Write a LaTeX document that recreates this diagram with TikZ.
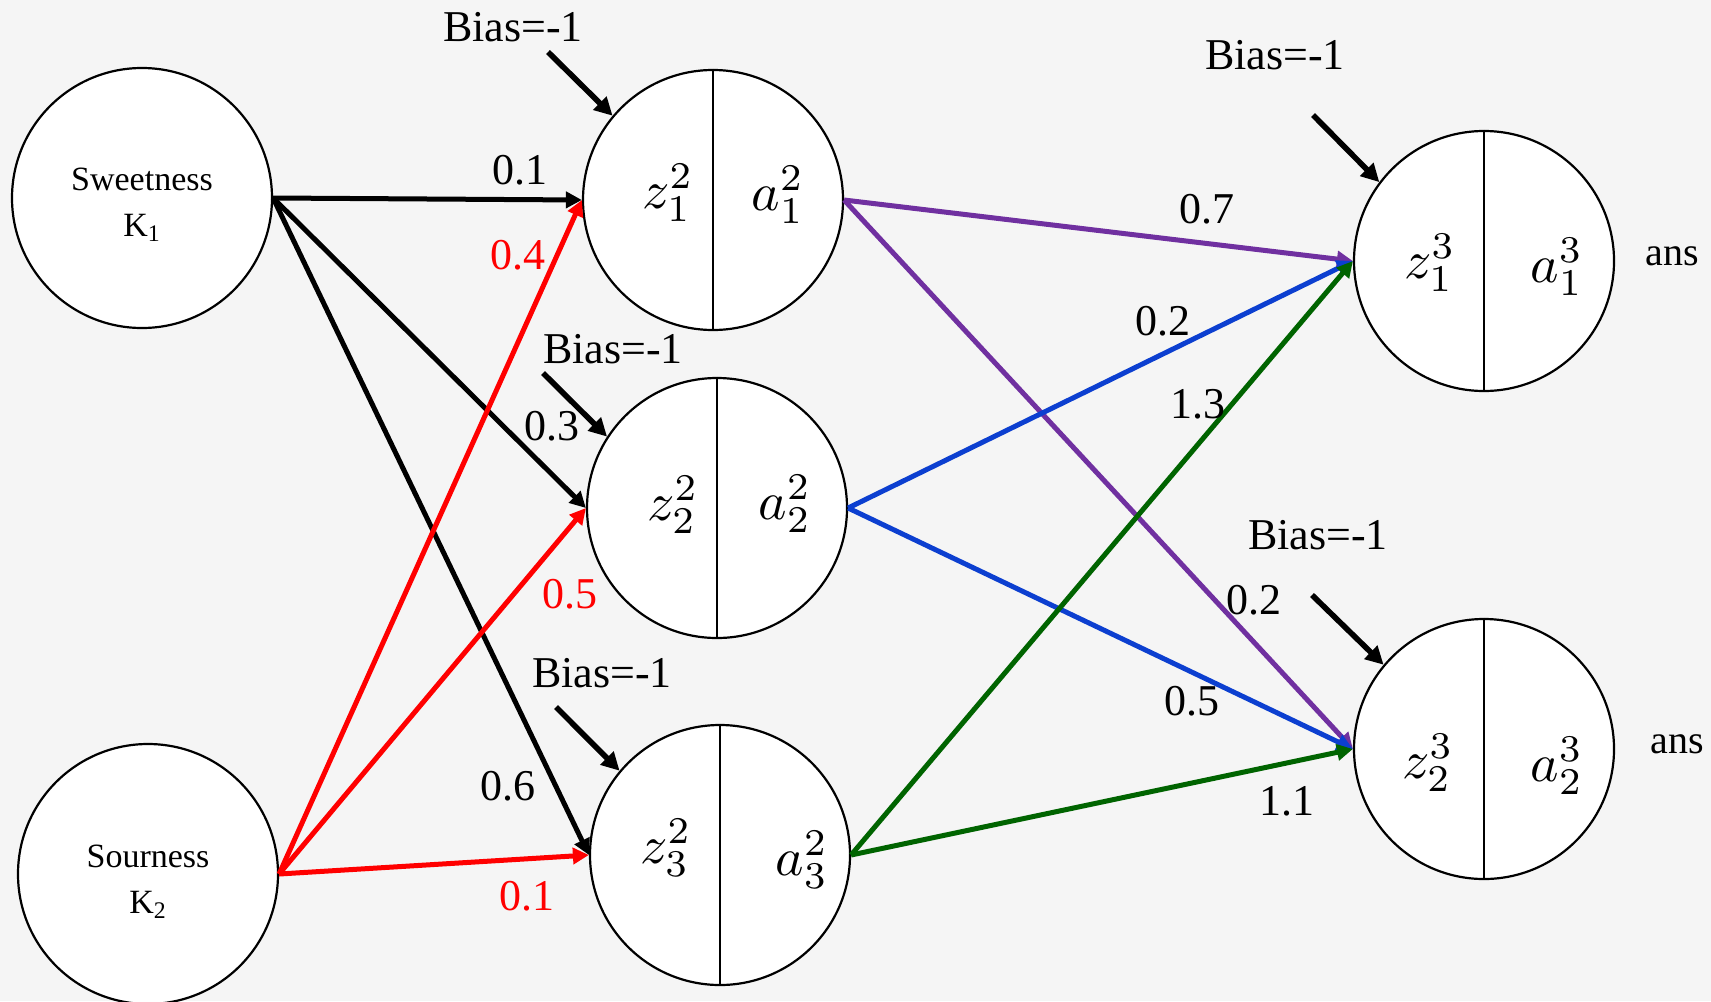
\documentclass[tikz,border=0pt]{standalone}
\usepackage{graphicx}
\usepackage{fontspec}
\setmainfont{Liberation Serif}
\usetikzlibrary{arrows.meta}
\definecolor{edgepurple}{HTML}{7030A0}
\definecolor{edgeblue}{HTML}{0C3FD0}
\definecolor{edgegreen}{HTML}{006400}
\definecolor{edgered}{HTML}{FF0000}
\definecolor{bgcol}{HTML}{F5F5F5}
\newcommand{\nlab}[1]{\scalebox{2.7}{$#1$}}
\begin{document}
\begin{tikzpicture}[x=0.5pt,y=-0.5pt,
  neuron/.style={circle,draw,fill=white,line width=1.1pt,minimum size=130pt,inner sep=0pt},
  inlbl/.style={font=\fontsize{17}{23}\selectfont,align=center,inner sep=0pt},
  mathlbl/.style={inner sep=0pt},
  wlbl/.style={font=\fontsize{22}{26}\selectfont,inner sep=0pt},
  biaslbl/.style={font=\fontsize{22}{26}\selectfont,inner sep=0pt},
  anslbl/.style={font=\fontsize{20}{24}\selectfont,inner sep=0pt},
  conn/.style={line width=2.5pt,-{Triangle[length=8pt,width=8pt]}},
  biasarrow/.style={line width=2.8pt,-{Triangle[length=9pt,width=9pt]}},
  divider/.style={line width=1.1pt}
]
\fill[bgcol] (0,0) rectangle (1711,1001);
\useasboundingbox (0,0) rectangle (1711,1001);

% input neurons
\node[neuron] (K1) at (142,198) {};
\node[neuron] (K2) at (148,874) {};
\node[inlbl] (K1txt) at (142,205) {Sweetness\\K\textsubscript{1}};
\node[inlbl] (K2txt) at (148,882) {Sourness\\K\textsubscript{2}};

% hidden neurons
\node[neuron] (H1) at (713,200) {};
\node[neuron] (H2) at (717,508) {};
\node[neuron] (H3) at (720,855) {};
% output neurons
\node[neuron] (O1) at (1484,261) {};
\node[neuron] (O2) at (1484,749) {};

\foreach \n in {H1,H2,H3,O1,O2} {\draw[divider] (\n.north) -- (\n.south);}

% math labels
\node[mathlbl] (z12) at (668,193) {\nlab{z_1^2}};
\node[mathlbl] (a12) at (778,195) {\nlab{a_1^2}};
\node[mathlbl] (z22) at (673,505) {\nlab{z_2^2}};
\node[mathlbl] (a22) at (785,504) {\nlab{a_2^2}};
\node[mathlbl] (z32) at (666,848) {\nlab{z_3^2}};
\node[mathlbl] (a32) at (802,860) {\nlab{a_3^2}};
\node[mathlbl] (z13) at (1430,263) {\nlab{z_1^3}};
\node[mathlbl] (a13) at (1557,267) {\nlab{a_1^3}};
\node[mathlbl] (z23) at (1428,763) {\nlab{z_2^3}};
\node[mathlbl] (a23) at (1557,766) {\nlab{a_2^3}};

% ans labels
\node[anslbl] (ans1) at (1672,256) {ans};
\node[anslbl] (ans2) at (1677,744) {ans};

% connections input -> hidden
\draw[conn,black] (K1.east) -- (H1.west);
\draw[conn,black] (K1.east) -- (H2.west);
\draw[conn,black] (K1.east) -- (H3.west);
\draw[conn,edgered] (K2.east) -- (H1.west);
\draw[conn,edgered] (K2.east) -- (H2.west);
\draw[conn,edgered] (K2.east) -- (H3.west);

% connections hidden -> output
\draw[conn,edgepurple] (H1.east) -- (O1.west);
\draw[conn,edgepurple] (H1.east) -- (O2.west);
\draw[conn,edgeblue] (H2.east) -- (O1.west);
\draw[conn,edgeblue] (H2.east) -- (O2.west);
\draw[conn,edgegreen] (H3.east) -- (O1.west);
\draw[conn,edgegreen] (H3.east) -- (O2.west);

% weight labels
\node[wlbl] (w1) at (520,170) {0.1};
\node[wlbl,text=edgered] (w2) at (518,255) {0.4};
\node[wlbl] (w3) at (552,426) {0.3};
\node[wlbl,text=edgered] (w4) at (570,594) {0.5};
\node[wlbl] (w5) at (508,786) {0.6};
\node[wlbl,text=edgered] (w6) at (527,896) {0.1};
\node[wlbl] (w7) at (1207,209) {0.7};
\node[wlbl] (w8) at (1163,321) {0.2};
\node[wlbl] (w9) at (1198,404) {1.3};
\node[wlbl] (w10) at (1254,600) {0.2};
\node[wlbl] (w11) at (1192,701) {0.5};
\node[wlbl] (w12) at (1287,801) {1.1};

% bias labels and arrows
\node[biaslbl] (b1) at (513,27) {Bias=-1};
\node[biaslbl] (b2) at (613,349) {Bias=-1};
\node[biaslbl] (b3) at (602,673) {Bias=-1};
\node[biaslbl] (b4) at (1275,55) {Bias=-1};
\node[biaslbl] (b5) at (1318,535) {Bias=-1};

\coordinate (s1) at (548,52);
\coordinate (s2) at (543,373);
\coordinate (s3) at (556,707);
\coordinate (s4) at (1313,115);
\coordinate (s5) at (1312,595);
\draw[biasarrow] (s1) -- (H1.140);
\draw[biasarrow] (s2) -- (H2.147);
\draw[biasarrow] (s3) -- (H3.140);
\draw[biasarrow] (s4) -- (O1.143);
\draw[biasarrow] (s5) -- (O2.140);
\end{tikzpicture}
\end{document}
